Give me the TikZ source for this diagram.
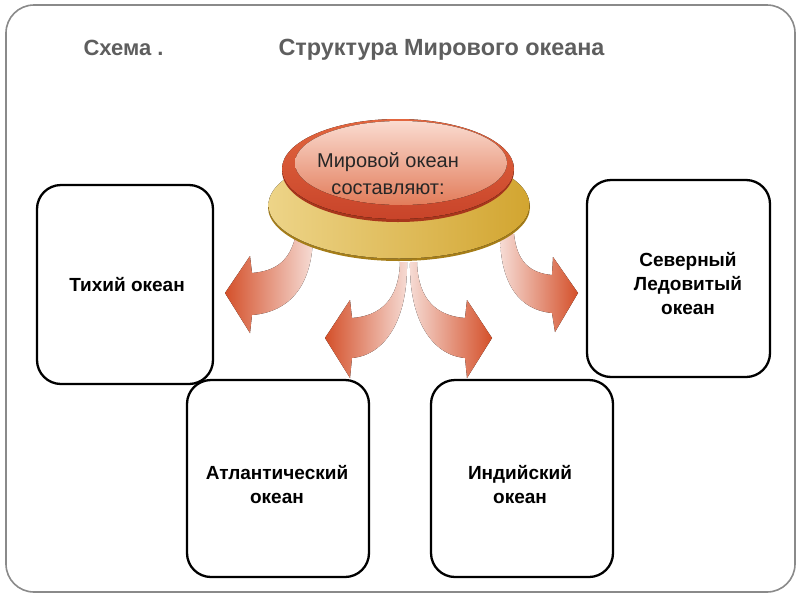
\documentclass[tikz,border=0pt]{standalone}
\usepackage{fontspec}
\setmainfont{Liberation Sans}
\definecolor{framegray}{HTML}{8A8A8A}
\definecolor{titlegray}{HTML}{5E5E5E}
\definecolor{arrowdark}{HTML}{D4502A}
\definecolor{arrowlight}{HTML}{F6DCD5}
\definecolor{goldlight}{HTML}{EDD488}
\definecolor{golddark}{HTML}{D2A530}
\definecolor{goldrim}{HTML}{A57D18}
\definecolor{redrim}{HTML}{A8361C}
\definecolor{redtop}{HTML}{E2663F}
\definecolor{redbot}{HTML}{C8442A}
\definecolor{facetop}{HTML}{FADBD0}
\definecolor{facebot}{HTML}{E27C5A}
\begin{document}
\begin{tikzpicture}[x=1pt,y=-1pt,
  oceanbox/.style={draw=black, line width=2.3pt, rounded corners=24pt, fill=white},
  boxtext/.style={font=\fontsize{19}{24}\selectfont\bfseries, align=center, text=black},
  titletext/.style={font=\fontsize{22}{26}\selectfont\bfseries, text=titlegray, anchor=base},
  arrowshape/.style={draw=none}
]
\useasboundingbox (0,0) rectangle (800,600);
% outer frame
\draw[framegray, line width=1.6pt, rounded corners=28pt] (6,5) rectangle (795,592);

% titles
\node[titletext] (t1) at (123.5,55) {Схема .};
\node[titletext, font=\fontsize{23.4}{27}\selectfont\bfseries] (t2) at (441.5,55) {Структура Мирового океана};

% arrows
\fill[left color=arrowdark, right color=arrowlight]
  (296,234) .. controls (290,262) and (275,271) .. (252,273) -- (250,256) -- (225,293)
  -- (250,333) -- (252,315) .. controls (290,312) and (313,285) .. (313,234) -- cycle;
\fill[left color=arrowdark, right color=arrowlight]
  (400,262) .. controls (399,300) and (380,316) .. (352,318) -- (350,300) -- (325,338)
  -- (350,378) -- (352,358) .. controls (385,355) and (408,320) .. (407,262) -- cycle;
\fill[left color=arrowlight, right color=arrowdark]
  (417,262) .. controls (418,300) and (437,316) .. (465,318) -- (467,300) -- (492,338)
  -- (467,378) -- (465,358) .. controls (432,355) and (409,320) .. (410,262) -- cycle;
\fill[left color=arrowlight, right color=arrowdark]
  (514,234) .. controls (517,262) and (530,273) .. (552,275) -- (553,257) -- (578,293)
  -- (555,332) -- (552,313) .. controls (520,310) and (500,285) .. (500,234) -- cycle;

% gold base
\fill[goldrim] (399,207) ellipse [x radius=131, y radius=54];
\fill[left color=goldlight, right color=golddark] (399,205) ellipse [x radius=130.5, y radius=53.5];
% red disk
\fill[redrim] (398,171) ellipse [x radius=116, y radius=51];
\fill[top color=redtop, bottom color=redbot] (398,169) ellipse [x radius=116, y radius=50];
\fill[top color=facetop, bottom color=facebot] (401,163) ellipse [x radius=106, y radius=42];
\node[font=\fontsize{20}{27}\selectfont, align=center, text=black!85] (world) at (388,174) {Мировой океан\\составляют:};

% ocean boxes
\node[oceanbox, minimum width=176pt, minimum height=199pt] (pac) at (125,284.5) {};
\node[oceanbox, minimum width=183pt, minimum height=197pt] (arc) at (678.5,278.5) {};
\node[oceanbox, minimum width=182pt, minimum height=197pt] (atl) at (278,478.5) {};
\node[oceanbox, minimum width=182pt, minimum height=197pt] (ind) at (522,478.5) {};

\node[boxtext] (pact) at (127,285) {Тихий океан};
\node[boxtext] (arct) at (688,284) {Северный\\Ледовитый\\океан};
\node[boxtext] (atlt) at (277,485) {Атлантический\\океан};
\node[boxtext] (indt) at (520,485) {Индийский\\океан};
\end{tikzpicture}
\end{document}
